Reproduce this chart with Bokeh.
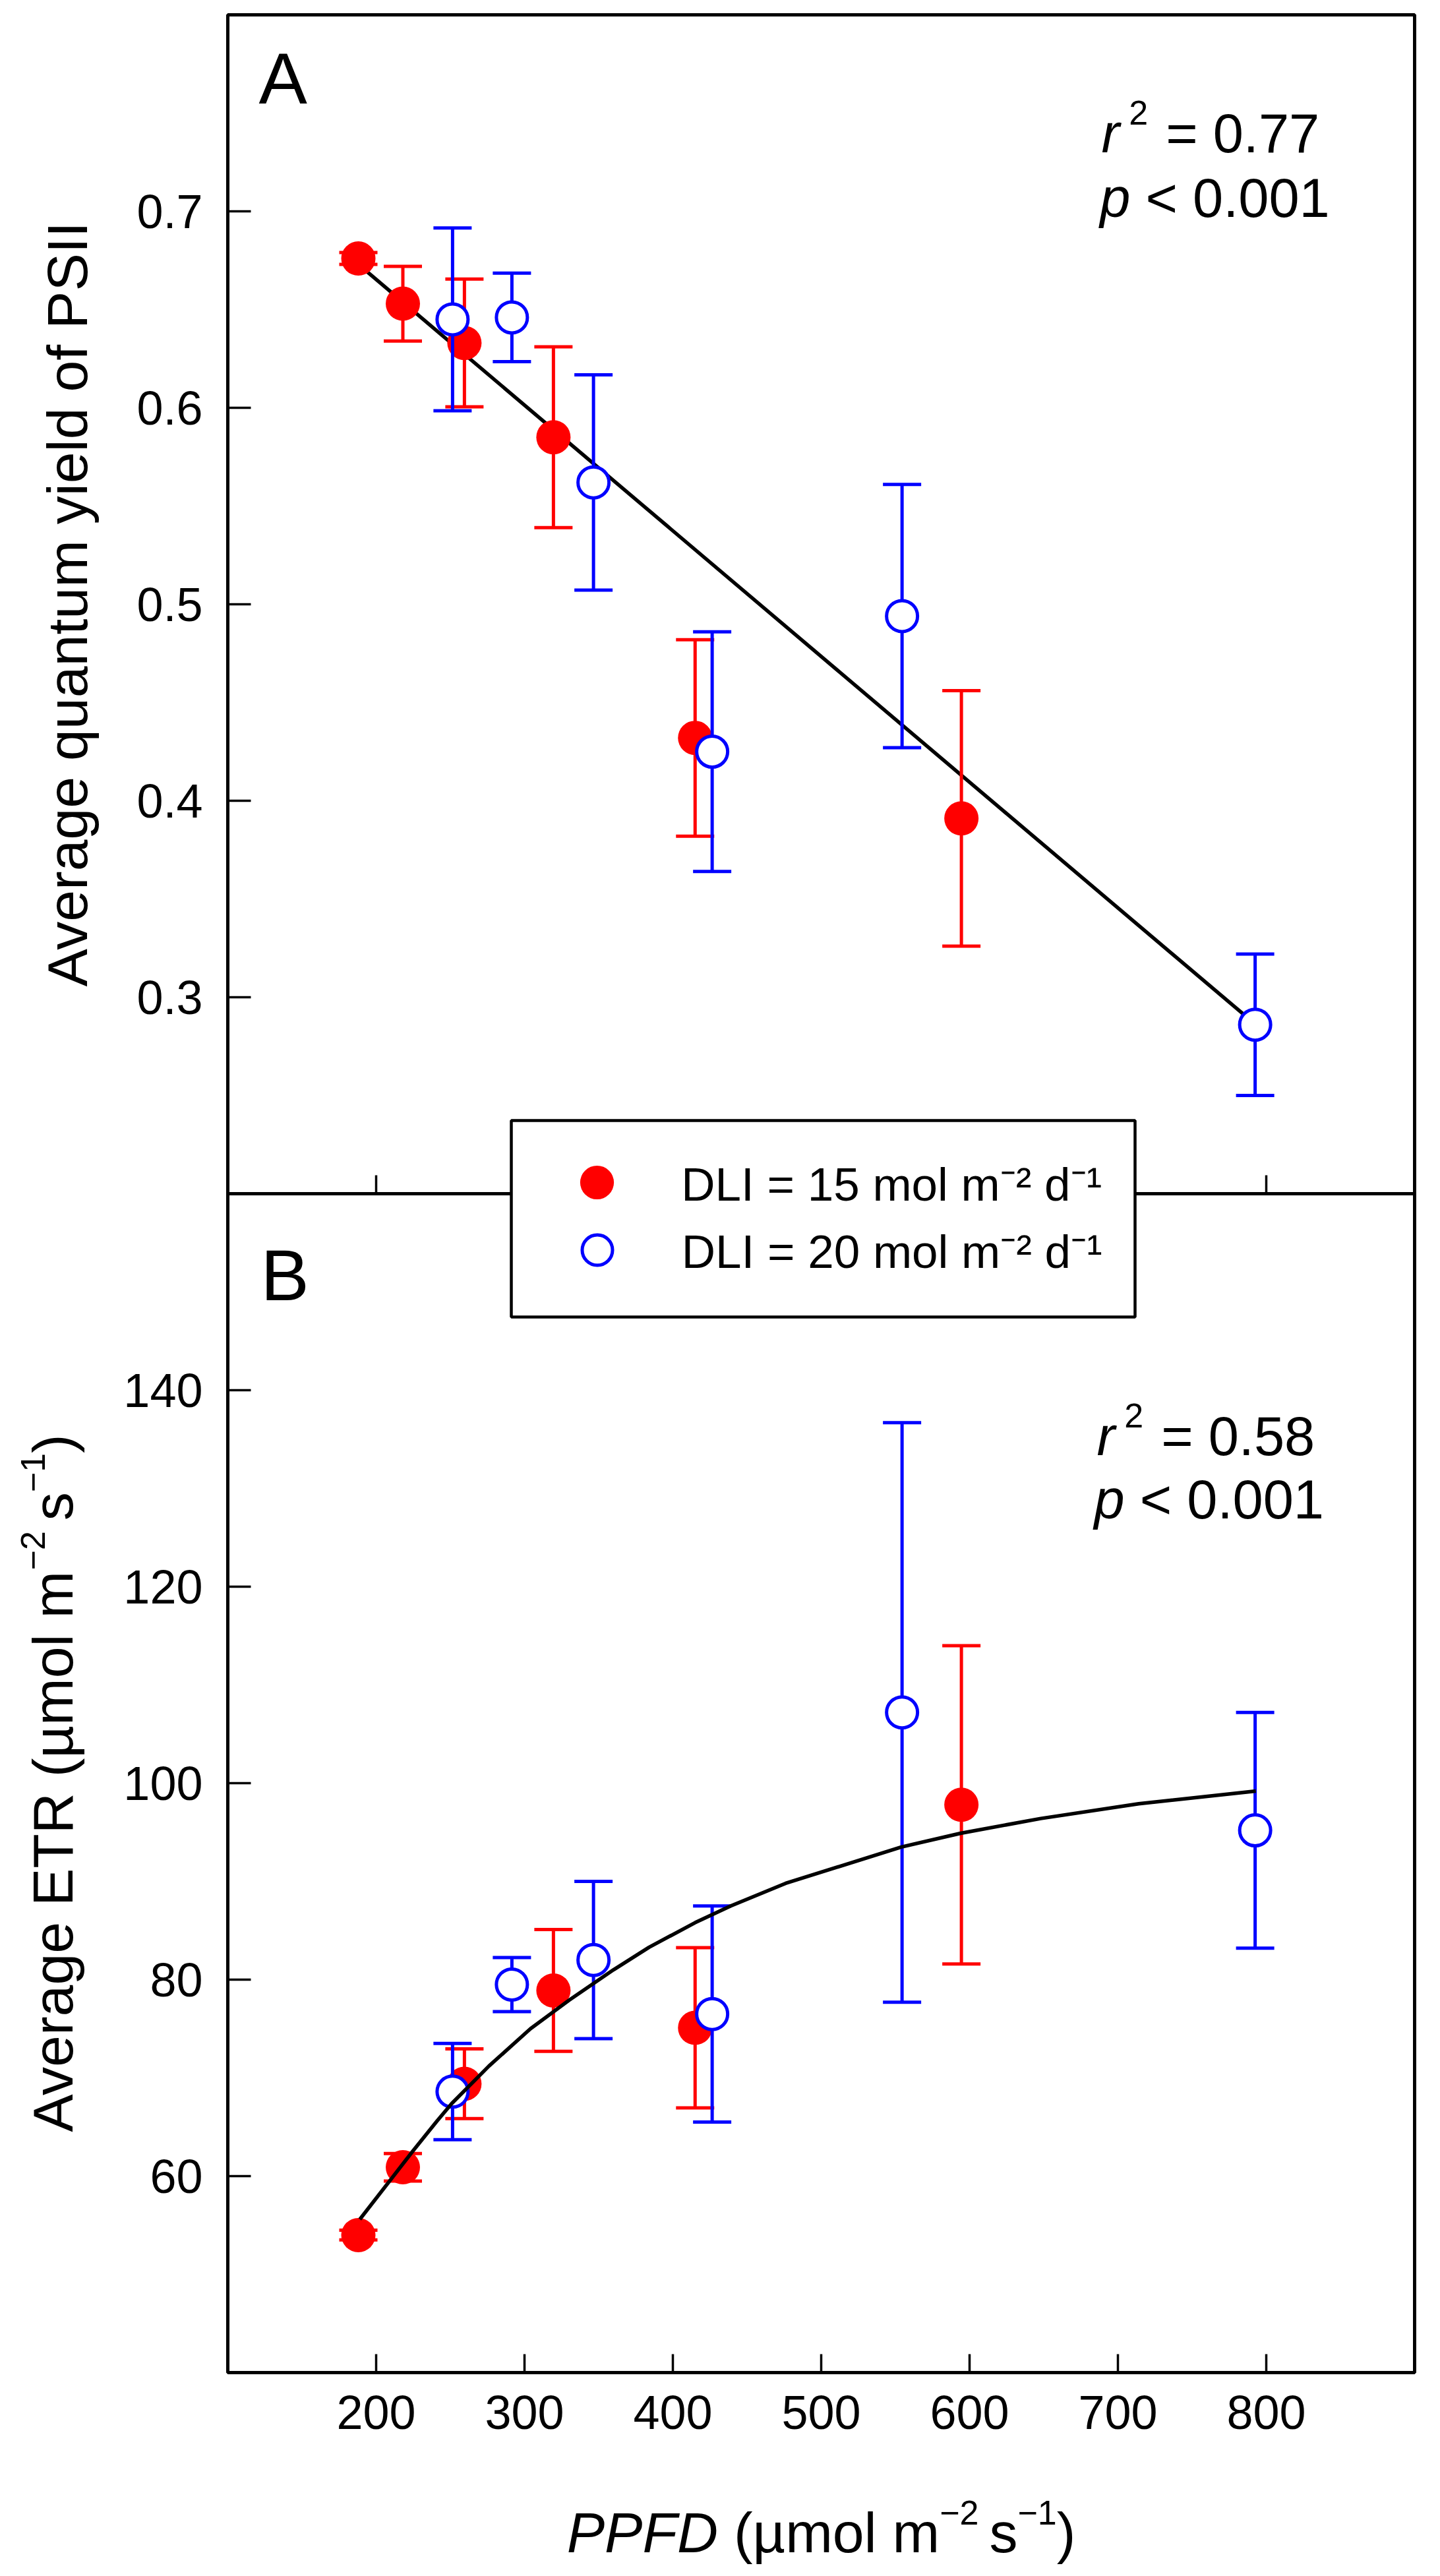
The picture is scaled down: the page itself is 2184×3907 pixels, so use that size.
import math
from bokeh.plotting import figure
from bokeh.models import (Range1d, LinearAxis, FixedTicker, ColumnDataSource,
                          Label, Legend, LegendItem, BoxAnnotation)
from bokeh.embed import file_html
from bokeh.resources import INLINE

# ------------------------------------------------------------------ data
ppfd_15 = [188, 218, 259.5, 319.5, 415, 594.5]
ppfd_20 = [251.5, 291.5, 346.5, 426.5, 554.5, 792.5]

qy_15 = [0.676, 0.653, 0.633, 0.585, 0.432, 0.391]
qy_15_err = [0.003, 0.019, 0.0325, 0.046, 0.050, 0.065]
qy_20 = [0.645, 0.646, 0.562, 0.425, 0.494, 0.286]
qy_20_err = [0.0465, 0.0225, 0.0548, 0.061, 0.067, 0.036]

etr_15 = [54.0, 60.9, 69.4, 78.9, 75.1, 97.8]
etr_15_err = [0.5, 1.4, 3.55, 6.2, 8.15, 16.2]
etr_20 = [68.6, 79.5, 82.0, 76.5, 107.2, 95.2]
etr_20_err = [4.9, 2.75, 8.0, 11.0, 29.5, 12.0]

fit_qy_x = [188, 793]
fit_qy_y = [0.673, 0.286]
fit_etr_x = [189, 225, 241, 251, 276, 304, 330, 360, 384, 415, 439, 476, 554, 594, 648, 714, 793]
fit_etr_y = [55.6, 62.6, 65.6, 67.4, 71.2, 75.0, 77.9, 81.0, 83.3, 85.8, 87.5, 89.8, 93.5, 94.9, 96.4, 97.9, 99.2]

x_ticks = [200, 300, 400, 500, 600, 700, 800]
qy_ticks = [0.3, 0.4, 0.5, 0.6, 0.7]
etr_ticks = [60, 80, 100, 120, 140]

x_lim = (100, 900)
qy_lim = (0.2, 0.8)
etr_lim = (40, 160)

legend_labels = ["DLI = 15 mol m\u207b\u00b2 d\u207b\u00b9", "DLI = 20 mol m\u207b\u00b2 d\u207b\u00b9"]
stats_a = ["0.77", "0.001"]
stats_b = ["0.58", "0.001"]

FONT = "Liberation Sans"
RED = "#ff0000"
BLUE = "#0000ff"
MID = 0.3465   # baseline -> middle of the text box, in em (Liberation Sans)

# ------------------------------------------------------------------ layout (canvas px)
CW, CH = 2168, 3891
BOX_L, BOX_R, BOX_T, BOX_D, BOX_B = 345, 2145, 22, 1810, 3598

sx = (BOX_R - BOX_L) / (x_lim[1] - x_lim[0])
sa = (BOX_D - BOX_T) / (qy_lim[1] - qy_lim[0])
sb = (BOX_B - BOX_D) / (etr_lim[1] - etr_lim[0])

x_range = Range1d(x_lim[0] - BOX_L / sx, x_lim[1] + (CW - BOX_R) / sx)
y_range = Range1d(qy_lim[1] - (CH - BOX_T) / sa, qy_lim[1] + BOX_T / sa)
etr_range = Range1d(etr_lim[1] - (CH - BOX_D) / sb, etr_lim[1] + BOX_D / sb)
y_bottom = qy_lim[0] - (qy_lim[1] - qy_lim[0])   # bottom of panel B in panel-A units

p = figure(width=CW, height=CH, x_range=x_range, y_range=y_range,
           x_axis_location=None, y_axis_location=None,
           output_backend="svg", toolbar_location=None,
           min_border=0, min_border_left=0, min_border_right=0,
           min_border_top=0, min_border_bottom=0,
           background_fill_color="white", border_fill_color="white",
           outline_line_color=None)
p.extra_y_ranges = {"etr": etr_range}
p.grid.visible = False


def style_axis(ax, tick_in, standoff, size="72px"):
    ax.major_tick_in = tick_in
    ax.major_tick_out = 0
    ax.minor_tick_line_color = None
    ax.major_tick_line_width = 3.5
    ax.major_tick_line_color = "black"
    ax.axis_line_color = None
    ax.major_label_text_font = FONT
    ax.major_label_text_font_size = size
    ax.major_label_text_color = "black"
    ax.major_label_standoff = standoff


ya = LinearAxis(ticker=FixedTicker(ticks=qy_ticks), fixed_location=x_lim[0])
style_axis(ya, 35, 38)
p.add_layout(ya, "left")

yb = LinearAxis(y_range_name="etr", ticker=FixedTicker(ticks=etr_ticks), fixed_location=x_lim[0])
style_axis(yb, 35, 38)
p.add_layout(yb, "left")

xa = LinearAxis(ticker=FixedTicker(ticks=x_ticks), fixed_location=y_bottom)
style_axis(xa, 28, 35)
p.add_layout(xa, "below")

xdiv = LinearAxis(ticker=FixedTicker(ticks=x_ticks), fixed_location=qy_lim[0])
style_axis(xdiv, 28, 0)
xdiv.major_label_text_color = None
p.add_layout(xdiv, "below")

# panel frames
for top, bottom in ((qy_lim[1], qy_lim[0]), (qy_lim[0], y_bottom)):
    p.add_layout(BoxAnnotation(left=x_lim[0], right=x_lim[1], top=top, bottom=bottom,
                               fill_color=None, line_color="black", line_alpha=1.0,
                               line_width=5))


def make_src(x, y, err):
    return ColumnDataSource(dict(x=x, y=y,
                                 lo=[v - e for v, e in zip(y, err)],
                                 hi=[v + e for v, e in zip(y, err)]))


def error_bars(src, color, rng="default"):
    p.segment(x0="x", y0="lo", x1="x", y1="hi", source=src, line_color=color,
              line_width=5, y_range_name=rng)
    for col in ("lo", "hi"):
        p.scatter("x", col, source=src, marker="dash", size=58, line_color=color,
                  line_width=5, y_range_name=rng)


src_a15 = make_src(ppfd_15, qy_15, qy_15_err)
src_a20 = make_src(ppfd_20, qy_20, qy_20_err)
src_b15 = make_src(ppfd_15, etr_15, etr_15_err)
src_b20 = make_src(ppfd_20, etr_20, etr_20_err)

# ---- panel A
p.line(fit_qy_x, fit_qy_y, line_color="black", line_width=5.5)
error_bars(src_a15, RED)
r_a15 = p.scatter("x", "y", source=src_a15, marker="circle", size=52,
                  fill_color=RED, line_color=None)
error_bars(src_a20, BLUE)
r_a20 = p.scatter("x", "y", source=src_a20, marker="circle", size=47,
                  fill_color="white", line_color=BLUE, line_width=5)

# ---- panel B
error_bars(src_b15, RED, "etr")
p.scatter("x", "y", source=src_b15, marker="circle", size=52,
          fill_color=RED, line_color=None, y_range_name="etr")
error_bars(src_b20, BLUE, "etr")
p.scatter("x", "y", source=src_b20, marker="circle", size=47,
          fill_color="white", line_color=BLUE, line_width=5, y_range_name="etr")
p.line(fit_etr_x, fit_etr_y, line_color="black", line_width=5.5, y_range_name="etr")

# ---- legend (box + one legend per row so the rows sit close together)
LEG_L, LEG_R, LEG_T, LEG_B = 775, 1721, 1699, 1997   # canvas px
p.add_layout(BoxAnnotation(left=x_range.start + LEG_L / sx, right=x_range.start + LEG_R / sx,
                           top=y_range.end - LEG_T / sa, bottom=y_range.end - LEG_B / sa,
                           fill_color="white", fill_alpha=1.0, line_color="black",
                           line_alpha=1.0, line_width=4.5))
MARK_X, TEXT_X = 905.3, 1033.6
for label, rend, cy, g in ((legend_labels[0], r_a15, 1793.3, 128),
                           (legend_labels[1], r_a20, 1895.7, 115)):
    left = MARK_X - g / 2
    bottom = cy + g / 2
    p.add_layout(Legend(items=[LegendItem(label=label, renderers=[rend])],
                        location=(left, CH - bottom), orientation="vertical",
                        glyph_width=g, glyph_height=g,
                        label_standoff=int(round(TEXT_X - left - g)),
                        spacing=0, padding=0, margin=0,
                        border_line_color=None, background_fill_alpha=0.0,
                        label_text_font=FONT, label_text_font_size="71px",
                        label_text_color="black"))

# ---- text helpers (Arial / Liberation Sans advance widths, 1/1000 em)
W = {' ': 278, 'A': 667, 'v': 500, 'e': 556, 'r': 333, 'a': 556, 'g': 556, 'q': 556,
     'u': 556, 'n': 556, 't': 278, 'm': 833, 'y': 500, 'i': 222, 'l': 222, 'd': 556,
     'o': 556, 'f': 278, 'P': 667, 'S': 667, 'I': 278, 'E': 667, 'T': 611, 'R': 722,
     '(': 333, ')': 333, '\u00b5': 576, 's': 500, 'F': 611, 'D': 722, '\u2212': 584,
     '=': 584, '<': 584, '.': 278, 'p': 556}


def tw(text, size):
    return sum(W.get(c, 556) for c in text) * size / 1000.0


def text_label(text, x, y, size, xo=0.0, yo=0.0, style="normal", rotated=False,
               align="left", rng="default"):
    """Place text so that its baseline passes through the offset anchor point."""
    if rotated:
        xo, ang = xo - MID * size, math.pi / 2
    else:
        yo, ang = yo + MID * size, 0.0
    p.add_layout(Label(x=x, y=y, x_offset=xo, y_offset=yo, text=text, angle=ang,
                       text_font=FONT, text_font_size=f"{size}px",
                       text_font_style=style, text_color="black",
                       text_align=align, text_baseline="middle", y_range_name=rng))


def rich_label(parts, x, y, x_off0=0.0, y_off0=0.0, rotated=False, rng="default"):
    cum = 0.0
    for text, size, style, rise, dx in parts:
        cum += dx
        lead = len(text) - len(text.lstrip(' '))
        start = cum + tw(' ' * lead, size)
        if rotated:
            xo, yo = x_off0 - rise, y_off0 + start
        else:
            xo, yo = x_off0 + start, y_off0 + rise
        text_label(text.strip(' '), x, y, size, xo, yo, style, rotated, "left", rng)
        cum += tw(text, size)
    return cum


def total_width(parts):
    return sum(tw(t, s) + dx for t, s, st, r, dx in parts)


# x axis label
xl_parts = [("PPFD", 86, "italic", 0, 0), (" (\u00b5mol m", 86, "normal", 0, 0),
            ("\u22122", 52, "normal", 41, 0), (" s", 86, "normal", 0, -8),
            ("\u22121", 52, "normal", 41, 0), (")", 86, "normal", 0, 0)]
rich_label(xl_parts, (x_lim[0] + x_lim[1]) / 2, y_bottom,
           x_off0=-total_width(xl_parts) / 2, y_off0=-272)

# y axis label panel A
text_label("Average quantum yield of PSII", x_lim[0], (qy_lim[0] + qy_lim[1]) / 2, 86,
           xo=-214, rotated=True, align="center")

# y axis label panel B
yl_parts = [("Average ETR (\u00b5mol m", 86, "normal", 0, 0),
            ("\u22122", 52, "normal", 41, 0), (" s", 86, "normal", 0, -8),
            ("\u22121", 52, "normal", 41, 0), (")", 86, "normal", 0, 0)]
rich_label(yl_parts, x_lim[0], (etr_lim[0] + etr_lim[1]) / 2, x_off0=-236,
           y_off0=-total_width(yl_parts) / 2, rotated=True, rng="etr")

# panel letters
text_label("A", x_lim[0], qy_lim[1], 110, xo=47, yo=-134.5)
text_label("B", x_lim[0], qy_lim[0], 110, xo=50, yo=-161)

# statistics
rich_label([("r", 83, "italic", 0, 0), ("2", 52, "normal", 42, 14),
            (" = " + stats_a[0], 83, "normal", 0, 4)], 688.9, 0.7299)
rich_label([("p", 83, "italic", 0, 0), (" < " + stats_a[1], 83, "normal", 0, 0)],
           687.9, 0.697)
rich_label([("r", 83, "italic", 0, 0), ("2", 52, "normal", 42, 14),
            (" = " + stats_b[0], 83, "normal", 0, 4)], 685.8, 133.36, rng="etr")
rich_label([("p", 83, "italic", 0, 0), (" < " + stats_b[1], 83, "normal", 0, 0)],
           684.0, 126.95, rng="etr")

open("out.html", "w").write(file_html(p, INLINE))
